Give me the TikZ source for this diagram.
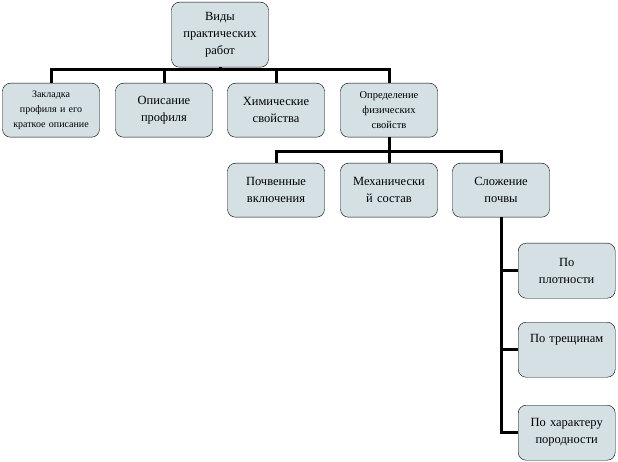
\documentclass[tikz,border=0pt]{standalone}
\usepackage{fontspec}
\setmainfont{Liberation Serif}
\usetikzlibrary{positioning}
\begin{document}
\begin{tikzpicture}[
            x=1pt, y=-1pt,
            box/.style={draw, rounded corners=8pt, fill=cyan!25!gray!30, minimum width=97pt,
                    minimum height=54pt, text width=92pt, align=center, anchor=north,
                    font=\fontsize{12.5}{17}\selectfont, inner sep=2pt},
            bus/.style={line width=3pt}
        ]
        \useasboundingbox (0,0) rectangle (618,462);
        % Root
        \node[box, minimum height=65pt] (root) at (220,2) {Виды\\практических\\работ};

        % First row
        \node[box, font=\fontsize{10}{15}\selectfont] (zakl) at (51,83) {Закладка\\профиля и его\\краткое описание};
        \node[box] (opis) at (164,83) {Описание\\профиля};
        \node[box] (him) at (276,83) {Химические\\свойства};
        \node[box, font=\fontsize{10.5}{15}\selectfont] (fiz) at (389,83) {Определение\\физических\\свойств};

        % Second row
        \node[box] (pochv) at (276,163) {Почвенные\\включения};
        \node[box] (meh) at (389,163) {Механически\\й состав};
        \node[box] (slozh) at (501,163) {Сложение\\почвы};

        % Third column
        \node[box, anchor=north west, minimum width=97pt, minimum height=55pt] (plot) at (518,243) {По\\плотности};
        \node[box, anchor=north west, minimum width=97pt, minimum height=55pt] (tresh) at (518,322) {По трещинам\\\strut};
        \node[box, anchor=north west, minimum width=97pt, minimum height=55pt] (har) at (518,405) {По характеру\\породности};

        % Buses
        \coordinate (bus1) at (220,70);
        \coordinate (bus2) at (389,152);
        \draw[bus] (root.south) -- (bus1);
        \draw[bus] (zakl.north) |- (bus1) -| (fiz.north);
        \draw[bus] (opis.north) -- (opis.north |- bus1);
        \draw[bus] (him.north) -- (him.north |- bus1);
        \draw[bus] (fiz.south) -- (bus2);
        \draw[bus] (pochv.north) |- (bus2) -| (slozh.north);
        \draw[bus] (meh.north) -- (meh.north |- bus2);
        \draw[bus] (slozh.south) |- (har.west);
        \draw[bus] (plot.west) -| (slozh.south);
        \draw[bus] (tresh.west) -| (slozh.south);
    \end{tikzpicture}
\end{document}
